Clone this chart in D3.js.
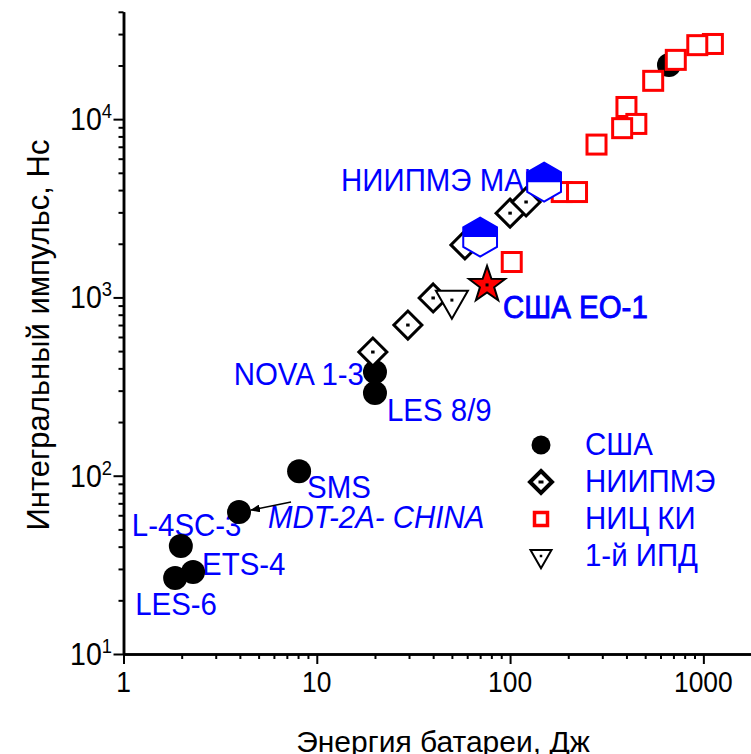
<!DOCTYPE html>
<html>
<head>
<meta charset="utf-8">
<script src="https://cdn.jsdelivr.net/npm/d3@7"></script>
<style>
  body { margin: 0; background: #fff; }
  svg { display: block; }
  text { font-family: "Liberation Sans", Arial, sans-serif; }
</style>
</head>
<body>
<div id="chart"></div>
<script>
// energy (J) / integral impulse (N*s)
const usaEnergy = [664, 20, 20, 8.1, 3.96, 1.98, 2.29, 1.85]
const usaImpulse = [20100, 382, 291, 106, 62.5, 40.4, 28.8, 26.7]
const usaNames = ['', 'NOVA 1-3', 'LES 8/9', 'SMS', 'MDT-2A- CHINA', 'L-4SC-3', 'ETS-4', 'LES-6']
const niipmeEnergy = [19.5, 29.6, 40, 58.4, 100, 121]
const niipmeImpulse = [494, 700, 993, 1970, 2970, 3430]
const nicEnergy = [1120, 930, 720, 550, 400, 450, 380, 280, 185, 222, 102]
const nicImpulse = [26400, 26000, 21500, 16400, 11700, 9400, 8900, 7200, 3900, 3900, 1580]
const ipdEnergy = [50]
const ipdImpulse = [966]
const maiEnergy = [70, 150]
const maiImpulse = [2180, 4430]
const maiName = 'НИИПМЭ МАИ'
const eo1Energy = [76]
const eo1Impulse = [1175]
const eo1Name = 'США EO-1'
const xTickValues = [1, 10, 100, 1000]
const xTickLabels = ['1', '10', '100', '1000']
const yTickValues = [10, 100, 1000, 10000]
const yTickExp = ['1', '2', '3', '4']
const legendNames = ['США', 'НИИПМЭ', 'НИЦ КИ', '1-й ИПД']
const xTitle = 'Энергия батареи, Дж'
const yTitle = 'Интегральный импульс, Нс'

const W = 751, H = 754
const BLUE = '#0000ff', RED = '#ff0000'

const svg = d3.select('#chart').append('svg')
  .attr('width', W)
  .attr('height', H)

const x = d3.scaleLog().domain([1, 1770]).range([123.5, 751.3])
const y = d3.scaleLog().domain([10, 40000]).range([654, 11.8])

const minors = (lo, hi) => {
  const out = []
  for (let p = lo; p < hi; p *= 10) {
    for (let m = 2; m <= 9; m++) out.push(m * p)
  }
  return out
}

// text squeezed a bit sideways, like the narrow face of the original
const label = (parent, px, py, str, opts = {}) => parent.append('text')
  .attr('transform', `translate(${px},${py}) scale(${opts.sx || 0.92},1)`)
  .attr('font-size', opts.size || 32)
  .attr('fill', opts.color || BLUE)
  .attr('font-style', opts.italic ? 'italic' : null)
  .attr('font-weight', opts.bold ? 'bold' : null)
  .attr('text-anchor', opts.anchor || 'start')
  .text(str)

// ---- axes
const xMinor = minors(1, 1000).filter(v => v <= 1770)
const yMinor = minors(10, 10000).concat([20000, 30000, 40000])

const gx = svg.append('g').attr('transform', `translate(0,${y(10)})`)
gx.call(d3.axisBottom(x).tickValues(xMinor).tickSize(5).tickSizeOuter(0).tickFormat(''))
gx.append('g').call(d3.axisBottom(x).tickValues(xTickValues).tickSize(10).tickSizeOuter(0).tickFormat(''))
gx.selectAll('.domain').attr('stroke-width', 2.5)
gx.selectAll('.tick line').attr('stroke-width', 2)

const gy = svg.append('g').attr('transform', `translate(${x(1)},0)`)
gy.call(d3.axisLeft(y).tickValues(yMinor).tickSize(5).tickSizeOuter(0).tickFormat(''))
gy.append('g').call(d3.axisLeft(y).tickValues(yTickValues).tickSize(10).tickSizeOuter(0).tickFormat(''))
gy.selectAll('.domain').attr('stroke-width', 2.5)
gy.selectAll('.tick line').attr('stroke-width', 2)

xTickValues.forEach((v, i) => {
  label(svg, x(v), 692, xTickLabels[i], { size: 30, sx: 0.88, color: '#000', anchor: 'middle' })
})
yTickValues.forEach((v, i) => {
  const t = svg.append('text')
    .attr('transform', `translate(112,${y(v) + 11}) scale(0.92,1)`)
    .attr('font-size', 31)
    .attr('text-anchor', 'end')
  t.append('tspan').text('10')
  t.append('tspan').attr('font-size', 20).attr('dy', -12).text(yTickExp[i])
})

label(svg, 443, 752, xTitle, { size: 30, sx: 1, color: '#000', anchor: 'middle' })
svg.append('text')
  .attr('transform', 'translate(49,335) rotate(-90)')
  .attr('font-size', 31)
  .attr('text-anchor', 'middle')
  .text(yTitle)

// ---- point labels
const nameOffsets = [null, [-11, 13, 'end'], [12, 28], [8, 27], [29, 16], [-49, -10], [9, 3], [-40, 37]]
usaNames.forEach((n, i) => {
  if (!n) return
  const o = nameOffsets[i]
  label(svg, x(usaEnergy[i]) + o[0], y(usaImpulse[i]) + o[1], n,
        { anchor: o[2] || 'start', italic: n.startsWith('MDT') })
})
label(svg, x(maiEnergy[1]) - 203, y(maiImpulse[1]) + 9, maiName)
label(svg, x(eo1Energy[0]) + 16, y(eo1Impulse[0]) + 33, eo1Name, { sx: 0.92 })
  .attr('stroke', BLUE)
  .attr('stroke-width', 0.9)

// arrow to MDT-2A
svg.append('defs').append('marker')
  .attr('id', 'arrow-head')
  .attr('markerWidth', 10)
  .attr('markerHeight', 8)
  .attr('refX', 9)
  .attr('refY', 4)
  .attr('orient', 'auto')
  .attr('markerUnits', 'userSpaceOnUse')
  .append('path')
    .attr('d', 'M0,0 L10,4 L0,8 Z')
    .attr('fill', '#000')
const mx = x(usaEnergy[4]), my = y(usaImpulse[4])
svg.append('line')
  .attr('x1', mx + 52).attr('y1', my - 10)
  .attr('x2', mx + 12).attr('y2', my - 2)
  .attr('stroke', '#000')
  .attr('stroke-width', 1.5)
  .attr('marker-end', 'url(#arrow-head)')

// ---- marker shapes
const diamond = h => `M0,${-h}L${h},0L0,${h}L${-h},0Z`
const tri = w => `M${-w / 2},${-w * 0.29}L${w / 2},${-w * 0.29}L0,${w * 0.58}Z`
const hexTop = r => {
  const c = r * Math.cos(Math.PI / 6)
  return `M${-c},0L${-c},${-r / 2}L0,${-r}L${c},${-r / 2}L${c},0Z`
}
const hex = r => {
  const c = r * Math.cos(Math.PI / 6)
  return `M0,${-r}L${c},${-r / 2}L${c},${r / 2}L0,${r}L${-c},${r / 2}L${-c},${-r / 2}Z`
}
const star = (ro, ri) => {
  let d = ''
  for (let k = 0; k < 10; k++) {
    const a = -Math.PI / 2 + k * Math.PI / 5
    const r = k % 2 ? ri : ro
    d += (k ? 'L' : 'M') + (r * Math.cos(a)).toFixed(2) + ',' + (r * Math.sin(a)).toFixed(2)
  }
  return d + 'Z'
}
const dot = (g, w, h) => g.append('rect')
  .attr('x', -w / 2).attr('y', -h / 2)
  .attr('width', w).attr('height', h)
  .attr('fill', '#000')

const pts = (es, is) => es.map((e, i) => [x(e), y(is[i])])

svg.append('g').selectAll('circle')
  .data(pts(usaEnergy, usaImpulse))
  .enter().append('circle')
    .attr('cx', d => d[0])
    .attr('cy', d => d[1])
    .attr('r', 12)
    .attr('fill', '#000')

const dia = svg.append('g').selectAll('g')
  .data(pts(niipmeEnergy, niipmeImpulse))
  .enter().append('g')
    .attr('transform', d => `translate(${d[0]},${d[1]})`)
dia.append('path').attr('d', diamond(14)).attr('fill', '#fff').attr('stroke', '#000').attr('stroke-width', 3)
dia.each(function () { dot(d3.select(this), 3.5, 3) })

svg.append('g').selectAll('rect')
  .data(pts(nicEnergy, nicImpulse))
  .enter().append('rect')
    .attr('x', d => d[0] - 9.5)
    .attr('y', d => d[1] - 9.5)
    .attr('width', 19)
    .attr('height', 19)
    .attr('fill', '#fff')
    .attr('stroke', RED)
    .attr('stroke-width', 3)

const tr = svg.append('g').selectAll('g')
  .data(pts(ipdEnergy, ipdImpulse))
  .enter().append('g')
    .attr('transform', d => `translate(${d[0]},${d[1]})`)
tr.append('path').attr('d', tri(32)).attr('fill', '#fff').attr('stroke', '#000').attr('stroke-width', 2)
tr.each(function () { dot(d3.select(this), 3, 3) })

const hx = svg.append('g').selectAll('g')
  .data(pts(maiEnergy, maiImpulse))
  .enter().append('g')
    .attr('transform', d => `translate(${d[0]},${d[1]})`)
hx.append('path').attr('d', hex(19.5)).attr('fill', '#fff')
hx.append('path').attr('d', hexTop(19.5)).attr('fill', BLUE)
hx.append('path').attr('d', hex(19.5)).attr('fill', 'none').attr('stroke', BLUE).attr('stroke-width', 2)

const st = svg.append('g').selectAll('g')
  .data(pts(eo1Energy, eo1Impulse))
  .enter().append('g')
    .attr('transform', d => `translate(${d[0]},${d[1]})`)
st.append('path').attr('d', star(19, 7.5)).attr('fill', RED).attr('stroke', '#000').attr('stroke-width', 2)
st.each(function () { dot(d3.select(this), 3, 3) })

// ---- legend
const legend = svg.append('g').attr('transform', 'translate(541,445)')
const rowH = 37
legendNames.forEach((n, i) => {
  const row = legend.append('g').attr('transform', `translate(0,${i * rowH})`)
  if (i === 0) row.append('circle').attr('r', 9.5).attr('fill', '#000')
  if (i === 1) {
    row.append('path').attr('d', diamond(11)).attr('fill', '#fff').attr('stroke', '#000').attr('stroke-width', 4)
    dot(row, 5, 3)
  }
  if (i === 2) {
    row.append('rect').attr('x', -6.5).attr('y', -6.5).attr('width', 13).attr('height', 13)
      .attr('fill', '#fff').attr('stroke', RED).attr('stroke-width', 3.5)
  }
  if (i === 3) {
    row.append('path').attr('d', tri(21)).attr('fill', '#fff').attr('stroke', '#000').attr('stroke-width', 2)
    dot(row, 2.5, 2.5)
  }
  label(row, 44, 10, n)
})
</script>
</body>
</html>
